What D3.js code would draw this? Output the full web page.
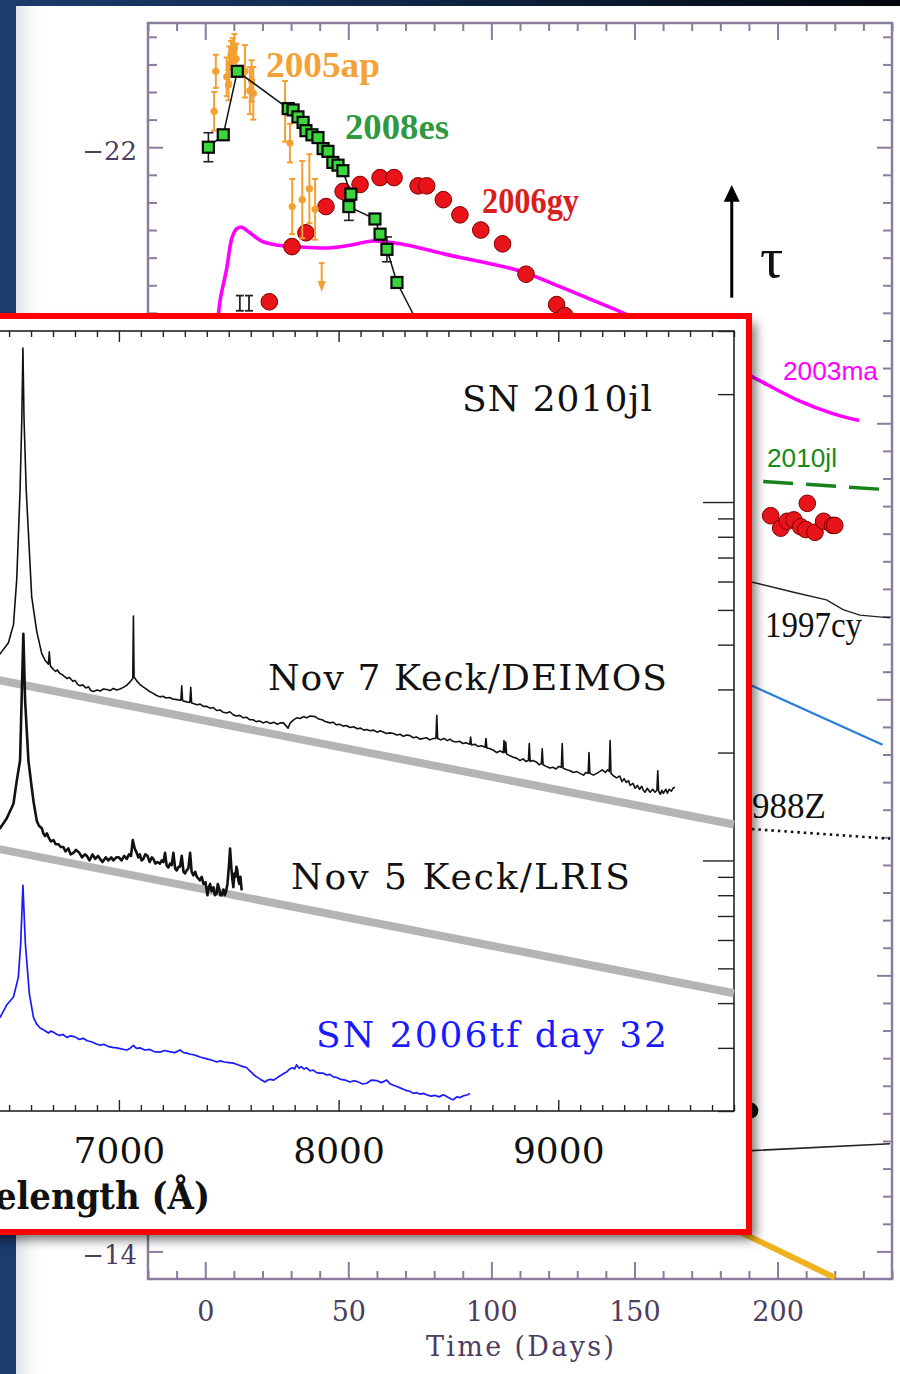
<!DOCTYPE html>
<html>
<head>
<meta charset="utf-8">
<script src="https://cdn.jsdelivr.net/npm/d3@7"></script>
<style>
  html, body { margin: 0; padding: 0; background: #0b1d36; }
  svg { display: block; }
</style>
</head>
<body>
<svg id="chart" width="900" height="1374"></svg>
<script>
// ---------------- Light curves (absolute magnitude vs. days) ----------------
const dayTicks = d3.range(-20, 241, 10);
const dayLabels = [0, 50, 100, 150, 200];
const magTicks = d3.range(-114, -69).map(i => i / 5);
const magLabels = [-22, -20, -18, -16, -14];

// [day, mag, error]
const sn2008es = [
  [1.1, -22.00, 0.105], [6.3, -22.09, 0], [11.2, -22.55, 0.03], [29.0, -22.28, 0],
  [30.7, -22.27, 0], [32.4, -22.22, 0], [34.2, -22.18, 0], [35.2, -22.12, 0],
  [37.3, -22.09, 0], [39.4, -22.07, 0], [41.2, -21.99, 0], [42.9, -21.97, 0],
  [44.6, -21.89, 0], [46.4, -21.87, 0], [48.1, -21.83, 0], [50.9, -21.66, 0],
  [50.2, -21.57, 0.10], [59.3, -21.48, 0], [61.1, -21.37, 0], [63.5, -21.26, 0.09],
  [67.0, -21.02, 0], [79.9, -20.50, 0]
];
// [day, mag, error]
const sn2005ap = [
  [3.1, -22.26, 0.14], [3.7, -22.55, 0.12], [7.5, -22.51, 0.14], [8.1, -22.45, 0.11],
  [8.4, -22.60, 0.13], [9.0, -22.67, 0.10], [9.6, -22.70, 0.09], [10.2, -22.72, 0.10],
  [10.8, -22.64, 0.11], [13.9, -22.55, 0.19], [15.6, -22.41, 0.17], [16.2, -22.48, 0.15],
  [16.8, -22.39, 0.19], [27.9, -22.26, 0.22], [29.6, -22.03, 0.14], [30.4, -21.57, 0.20],
  [33.9, -21.62, 0.28], [36.4, -21.70, 0.25], [38.4, -21.55, 0.22]
];
const sn2005apLimit = [[40.7, -21.16]];
// [day, mag]
const sn2006gy = [
  [22.4, -20.88], [30.3, -21.28], [35.2, -21.38], [42.2, -21.57], [48.2, -21.68],
  [54.1, -21.73], [61.1, -21.78], [66.0, -21.78], [74.4, -21.72], [77.4, -21.72],
  [83.2, -21.62], [89.0, -21.51], [96.3, -21.40], [103.9, -21.30], [112.1, -21.08],
  [122.8, -20.86], [125.7, -20.78],
  [197.6, -19.33], [201.1, -19.24], [203.4, -19.29], [205.7, -19.30], [208.1, -19.25],
  [210.4, -19.42], [209.9, -19.23], [213.1, -19.21], [216.1, -19.29], [219.2, -19.26],
  [220.0, -19.26]
];
const barsOnly = [[12.1, -20.87, 0.055], [15.3, -20.87, 0.055]];
const sn2003ma = [
  [3.8, -20.60], [5.2, -20.89], [7.5, -21.12], [9.3, -21.34], [11.0, -21.41],
  [12.7, -21.42], [15.6, -21.38], [19.7, -21.32], [25.5, -21.29], [31.4, -21.28],
  [43.0, -21.27], [50.6, -21.29], [58.7, -21.32], [68.1, -21.30], [84.9, -21.22],
  [108.8, -21.11], [124.0, -20.99], [135.5, -20.89], [146.0, -20.80], [169.4, -20.57],
  [190.9, -20.34], [207.8, -20.16], [219.3, -20.07], [228.5, -20.02]
];
const sn2010jl = [[150, -19.64], [237.5, -19.52]];
const sn1997cy = [
  [172.9, -18.94], [190.9, -18.85], [206.7, -18.77], [217.1, -18.72],
  [222.9, -18.65], [228.8, -18.61], [239.3, -18.59]
];
const blueCurve = [[172.9, -18.28], [190.9, -18.10], [236.7, -17.67]];
const sn1988Z = [[172.9, -17.08], [191.0, -17.06], [239.3, -16.99]];
const blackLowCurve = [[172.9, -14.71], [191.0, -14.73], [239.3, -14.78]];
const goldCurve = [[172.9, -14.28], [191.0, -14.10], [220.0, -13.81]];
const hiddenDot = [[190.5, -15.02]];

// ---------------- Spectra (flux in 1e-15 erg/s/cm2/A, log axis) ----------------
const waveTicks = d3.range(3700, 9801, 100);
const waveLabels = [7000, 8000, 9000];
const fluxTicks = [0.2, 0.3, 0.4, 0.5, 0.6, 0.7, 0.8, 0.9, 1, 2, 3, 4, 5, 6, 7, 8, 9, 10, 20, 30];

const deimosNov7 = [
  [6345, 3.34], [6459, 3.77], [6497, 4.05], [6520, 4.55], [6535, 6.11], [6550, 10.8],
  [6558, 17.1], [6563, 26.9], [6568, 17.1], [6578, 10.8], [6603, 5.44], [6626, 4.35],
  [6649, 3.77], [6664, 3.62], [6679, 3.53], [6683, 3.82], [6688, 3.49], [6702, 3.41],
  [6712, 3.37], [6720, 3.40], [6730, 3.33], [6742, 3.30], [6750, 3.27], [6763, 3.22],
  [6775, 3.24], [6790, 3.16], [6800, 3.18], [6812, 3.10], [6823, 3.07], [6835, 3.09],
  [6850, 3.03], [6862, 3.05], [6872, 2.98], [6884, 2.96], [6900, 2.99], [6915, 2.97],
  [6930, 3.01], [6945, 3.00], [6960, 2.98], [6975, 3.02], [6990, 2.99], [7005, 3.01],
  [7020, 3.04], [7035, 3.08], [7051, 3.15], [7063, 3.22], [7066, 4.81], [7069, 3.25],
  [7081, 3.17], [7095, 3.10], [7110, 3.05], [7127, 3.00], [7140, 2.96], [7155, 2.93],
  [7170, 2.89], [7187, 2.86], [7200, 2.87], [7215, 2.84], [7230, 2.85], [7245, 2.82],
  [7263, 2.81], [7282, 2.80], [7286, 3.07], [7290, 2.79], [7309, 2.77], [7323, 2.76],
  [7327, 3.04], [7331, 2.75], [7339, 2.74], [7355, 2.72], [7370, 2.73], [7385, 2.69],
  [7400, 2.69], [7415, 2.66], [7430, 2.67], [7445, 2.62], [7460, 2.63], [7475, 2.59],
  [7491, 2.58], [7505, 2.60], [7520, 2.55], [7535, 2.53], [7550, 2.54], [7566, 2.50],
  [7580, 2.51], [7595, 2.47], [7610, 2.47], [7625, 2.44], [7640, 2.45], [7657, 2.42],
  [7672, 2.44], [7690, 2.41], [7705, 2.43], [7720, 2.40], [7735, 2.42], [7749, 2.42],
  [7762, 2.37], [7770, 2.34], [7780, 2.42], [7790, 2.45], [7800, 2.48], [7810, 2.50],
  [7825, 2.49], [7840, 2.52], [7855, 2.50], [7870, 2.53], [7893, 2.52], [7910, 2.48],
  [7925, 2.47], [7940, 2.44], [7961, 2.42], [7975, 2.43], [7990, 2.39], [8005, 2.40],
  [8020, 2.37], [8035, 2.38], [8052, 2.35], [8068, 2.36], [8085, 2.33], [8100, 2.34],
  [8115, 2.31], [8128, 2.32], [8143, 2.30], [8160, 2.31], [8175, 2.28], [8190, 2.30],
  [8205, 2.28], [8220, 2.26], [8234, 2.27], [8250, 2.26], [8265, 2.24], [8280, 2.25],
  [8295, 2.22], [8310, 2.24], [8325, 2.23], [8340, 2.20], [8355, 2.21], [8370, 2.18],
  [8384, 2.19], [8400, 2.20], [8415, 2.17], [8430, 2.19], [8443, 2.19], [8447, 2.54],
  [8451, 2.19], [8465, 2.17], [8480, 2.19], [8495, 2.16], [8507, 2.18], [8520, 2.15],
  [8535, 2.14], [8550, 2.15], [8566, 2.12], [8580, 2.13], [8597, 2.11], [8601, 2.21],
  [8605, 2.10], [8620, 2.11], [8635, 2.08], [8650, 2.09], [8667, 2.07], [8671, 2.19],
  [8675, 2.06], [8690, 2.05], [8705, 2.03], [8720, 2.00], [8735, 2.02], [8750, 2.00],
  [8753, 2.16], [8757, 2.00], [8761, 2.14], [8765, 1.98], [8780, 1.96], [8795, 1.94],
  [8810, 1.93], [8826, 1.90], [8840, 1.92], [8852, 1.89], [8864, 1.90], [8868, 2.12],
  [8872, 1.89], [8885, 1.90], [8902, 1.88], [8912, 1.85], [8923, 1.86], [8927, 2.05],
  [8931, 1.85], [8945, 1.83], [8962, 1.81], [8975, 1.82], [8990, 1.80], [9002, 1.83],
  [9014, 1.82], [9018, 2.12], [9022, 1.81], [9038, 1.79], [9054, 1.78], [9068, 1.76],
  [9085, 1.77], [9099, 1.75], [9115, 1.73], [9125, 1.76], [9136, 1.75], [9140, 2.00],
  [9144, 1.75], [9160, 1.73], [9175, 1.75], [9188, 1.77], [9200, 1.79], [9215, 1.76],
  [9225, 1.79], [9232, 1.77], [9236, 2.16], [9240, 1.75], [9252, 1.72], [9266, 1.70],
  [9280, 1.72], [9290, 1.66], [9300, 1.69], [9310, 1.65], [9320, 1.67], [9327, 1.62],
  [9340, 1.64], [9350, 1.59], [9360, 1.62], [9370, 1.58], [9380, 1.61], [9387, 1.57],
  [9395, 1.55], [9405, 1.59], [9418, 1.55], [9430, 1.58], [9440, 1.55], [9449, 1.57],
  [9453, 1.78], [9457, 1.56], [9465, 1.53], [9472, 1.57], [9478, 1.54], [9490, 1.58],
  [9497, 1.54], [9505, 1.58], [9515, 1.56], [9522, 1.59], [9531, 1.60]
];
const lrisNov5 = [
  [6345, 1.10], [6459, 1.23], [6489, 1.31], [6520, 1.44], [6535, 1.67], [6550, 1.90],
  [6557, 2.79], [6565, 4.29], [6573, 2.79], [6588, 1.90], [6603, 1.60], [6612, 1.45],
  [6626, 1.29], [6636, 1.25], [6649, 1.23], [6656, 1.19], [6664, 1.17], [6672, 1.19],
  [6680, 1.16], [6690, 1.13], [6702, 1.14], [6712, 1.11], [6725, 1.11], [6735, 1.09],
  [6747, 1.09], [6757, 1.06], [6770, 1.08], [6780, 1.04], [6793, 1.05], [6805, 1.07],
  [6820, 1.05], [6832, 1.02], [6845, 1.04], [6854, 1.03], [6866, 1.00], [6880, 1.04],
  [6892, 1.01], [6905, 1.03], [6914, 1.01], [6925, 0.99], [6940, 1.02], [6952, 1.00],
  [6965, 1.02], [6975, 1.00], [6988, 1.02], [7000, 1.02], [7012, 1.00], [7024, 1.03],
  [7036, 1.01], [7046, 1.04], [7055, 1.03], [7063, 1.14], [7072, 1.08], [7081, 1.05],
  [7088, 1.02], [7095, 1.04], [7103, 1.00], [7111, 1.01], [7120, 1.04], [7130, 1.03],
  [7140, 0.99], [7150, 1.02], [7157, 1.01], [7166, 0.98], [7175, 0.99], [7187, 0.98],
  [7195, 1.00], [7203, 0.99], [7210, 1.05], [7217, 0.97], [7225, 0.956], [7233, 0.98],
  [7240, 0.97], [7248, 1.05], [7256, 0.95], [7263, 0.938], [7271, 0.96], [7278, 0.96],
  [7286, 1.03], [7294, 0.93], [7301, 0.920], [7309, 0.94], [7316, 0.95], [7324, 1.05],
  [7331, 0.93], [7339, 0.909], [7347, 0.93], [7355, 0.90], [7362, 0.89], [7369, 0.880],
  [7377, 0.90], [7385, 0.86], [7394, 0.87], [7403, 0.800], [7409, 0.84], [7415, 0.86],
  [7422, 0.82], [7430, 0.842], [7437, 0.80], [7445, 0.81], [7450, 0.86], [7455, 0.84],
  [7462, 0.80], [7468, 0.800], [7476, 0.83], [7482, 0.80], [7488, 0.82], [7494, 0.86],
  [7500, 0.95], [7506, 1.08], [7512, 0.95], [7517, 0.88], [7521, 0.842], [7526, 0.92],
  [7530, 0.90], [7535, 0.96], [7539, 0.938], [7544, 0.88], [7548, 0.86], [7553, 0.90],
  [7559, 0.825]
];
const sn2006tfDay32 = [
  [6345, 0.336], [6459, 0.365], [6489, 0.395], [6520, 0.416], [6542, 0.472], [6553, 0.588],
  [6563, 0.852], [6574, 0.588], [6592, 0.426], [6611, 0.365], [6625, 0.350], [6641, 0.341],
  [6660, 0.336], [6679, 0.330], [6690, 0.334], [6702, 0.332], [6715, 0.328], [6730, 0.325],
  [6745, 0.327], [6763, 0.321], [6780, 0.324], [6800, 0.322], [6818, 0.317], [6838, 0.319],
  [6855, 0.314], [6875, 0.312], [6895, 0.308], [6914, 0.305], [6930, 0.307], [6950, 0.303],
  [6970, 0.301], [6990, 0.300], [7010, 0.298], [7036, 0.296], [7050, 0.299], [7066, 0.305],
  [7080, 0.299], [7096, 0.300], [7118, 0.296], [7140, 0.297], [7160, 0.293], [7187, 0.292],
  [7208, 0.295], [7230, 0.293], [7255, 0.291], [7278, 0.296], [7295, 0.291], [7309, 0.290],
  [7325, 0.288], [7340, 0.287], [7355, 0.285], [7369, 0.283], [7388, 0.281], [7405, 0.279],
  [7425, 0.277], [7445, 0.274], [7462, 0.276], [7480, 0.274], [7500, 0.273], [7521, 0.272],
  [7535, 0.270], [7550, 0.268], [7565, 0.266], [7582, 0.264], [7595, 0.259], [7605, 0.256],
  [7615, 0.252], [7627, 0.249], [7645, 0.245], [7665, 0.241], [7678, 0.244], [7690, 0.245],
  [7705, 0.244], [7718, 0.247], [7730, 0.250], [7740, 0.252], [7752, 0.255], [7764, 0.257],
  [7778, 0.262], [7790, 0.264], [7800, 0.262], [7809, 0.269], [7820, 0.263], [7830, 0.266],
  [7842, 0.262], [7855, 0.264], [7870, 0.259], [7885, 0.260], [7900, 0.256], [7916, 0.255],
  [7930, 0.255], [7945, 0.252], [7960, 0.253], [7976, 0.249], [7992, 0.248], [8010, 0.245],
  [8030, 0.244], [8052, 0.241], [8070, 0.243], [8090, 0.241], [8110, 0.238], [8128, 0.239],
  [8150, 0.244], [8175, 0.243], [8195, 0.240], [8219, 0.244], [8235, 0.238], [8250, 0.236],
  [8265, 0.234], [8280, 0.232], [8295, 0.230], [8310, 0.228], [8325, 0.227], [8340, 0.224],
  [8355, 0.225], [8370, 0.223], [8385, 0.224], [8401, 0.222], [8420, 0.220], [8440, 0.221],
  [8458, 0.219], [8477, 0.222], [8490, 0.220], [8500, 0.218], [8512, 0.216], [8522, 0.215],
  [8538, 0.219], [8553, 0.218], [8565, 0.220], [8575, 0.221], [8588, 0.222], [8598, 0.224]
];
const continuumUpper = [[6000, 3.61], [9800, 1.26]];
const continuumLower = [[6000, 1.22], [9800, 0.426]];

// ---------------- Drawing ----------------
const W = 900, H = 1374;
const svg = d3.select('#chart');
const defs = svg.append('defs');

const bg = defs.append('linearGradient').attr('id', 'bgGrad')
  .attr('x1', 0).attr('y1', 0).attr('x2', 1).attr('y2', 0);
bg.append('stop').attr('offset', '0%').attr('stop-color', '#1b3c6e');
bg.append('stop').attr('offset', '50%').attr('stop-color', '#0e2342');
bg.append('stop').attr('offset', '100%').attr('stop-color', '#03070d');

const edge = defs.append('linearGradient').attr('id', 'edgeGrad')
  .attr('x1', 0).attr('y1', 0).attr('x2', 1).attr('y2', 0);
edge.append('stop').attr('offset', '0%').attr('stop-color', '#dfe2e8');
edge.append('stop').attr('offset', '100%').attr('stop-color', '#ffffff').attr('stop-opacity', 0);

const shadow = defs.append('filter').attr('id', 'shadow')
  .attr('x', '-5%').attr('y', '-5%').attr('width', '115%').attr('height', '115%');
shadow.append('feDropShadow').attr('dx', 6).attr('dy', 7)
  .attr('stdDeviation', 6).attr('flood-color', '#000').attr('flood-opacity', 0.6);

svg.append('rect').attr('width', W).attr('height', H).attr('fill', 'url(#bgGrad)');
svg.append('rect').attr('x', 16).attr('y', 6).attr('width', W).attr('height', H).attr('fill', '#fff');
svg.append('rect').attr('x', 16).attr('y', 6).attr('width', 30).attr('height', H).attr('fill', 'url(#edgeGrad)');

// ---- light curve panel ----
const xL = d3.scaleLinear().domain([-20, 240]).range([148, 892]);
const yL = d3.scaleLinear().domain([-22.9, -13.8]).range([23, 1279]);
const frameCol = '#8a7c9c', labelCol = '#4d3d60';
const lc = svg.append('g');

const near = (a, b) => Math.abs(a - b) < 1e-6;
const isDayMajor = d => d % 50 === 0;
const isMagMajor = d => near(d, Math.round(d)) && Math.round(d) % 2 === 0;

function tidy(g) {
  g.select('.domain').remove();
  g.selectAll('.tick line').attr('stroke', frameCol).attr('stroke-width', 2);
  g.selectAll('.tick text').attr('font-family', 'DejaVu Serif').attr('fill', labelCol);
  return g;
}

const gBot = lc.append('g').attr('transform', `translate(0,${yL(-13.8)})`)
  .call(d3.axisBottom(xL).tickValues(dayTicks).tickSize(-8).tickPadding(23)
    .tickFormat(d => dayLabels.includes(d) ? d3.format('d')(d) : ''));
tidy(gBot).selectAll('.tick line').attr('y2', d => isDayMajor(d) ? -17 : -8);
gBot.selectAll('.tick text').attr('font-size', 27);

const gTop = lc.append('g').attr('transform', `translate(0,${yL(-22.9)})`)
  .call(d3.axisTop(xL).tickValues(dayTicks).tickSize(-8).tickFormat(''));
tidy(gTop).selectAll('.tick line').attr('y2', d => isDayMajor(d) ? 17 : 8);

const gLeft = lc.append('g').attr('transform', `translate(${xL(-20)},0)`)
  .call(d3.axisLeft(yL).tickValues(magTicks).tickSize(-9).tickPadding(11)
    .tickFormat(d => magLabels.some(m => near(m, d)) ? d3.format('d')(Math.round(d)) : ''));
tidy(gLeft).selectAll('.tick line').attr('x2', d => isMagMajor(d) ? 15 : 9);
gLeft.selectAll('.tick text').attr('font-size', 26).attr('dy', '0.46em');

const gRight = lc.append('g').attr('transform', `translate(${xL(240)},0)`)
  .call(d3.axisRight(yL).tickValues(magTicks).tickSize(-9).tickFormat(''));
tidy(gRight).selectAll('.tick line').attr('x2', d => isMagMajor(d) ? -15 : -9);

lc.append('rect')
  .attr('x', xL(-20)).attr('y', yL(-22.9))
  .attr('width', xL(240) - xL(-20)).attr('height', yL(-13.8) - yL(-22.9))
  .attr('fill', 'none').attr('stroke', frameCol).attr('stroke-width', 2.5);

lc.append('text').attr('x', (xL(-20) + xL(240)) / 2).attr('y', 1356)
  .attr('text-anchor', 'middle').attr('font-family', 'DejaVu Serif').attr('font-size', 27)
  .attr('fill', labelCol).attr('textLength', 188).attr('lengthAdjust', 'spacing')
  .text('Time (Days)');

const line = d3.line().x(d => xL(d[0])).y(d => yL(d[1]));

// late-time comparison tracks
lc.append('path').datum(goldCurve).attr('d', line).attr('fill', 'none')
  .attr('stroke', '#f0b21e').attr('stroke-width', 6);
lc.append('path').datum(blackLowCurve).attr('d', line).attr('fill', 'none')
  .attr('stroke', '#222').attr('stroke-width', 1.6);
lc.append('path').datum(sn1988Z).attr('d', line).attr('fill', 'none')
  .attr('stroke', '#111').attr('stroke-width', 2.6).attr('stroke-dasharray', '2.5,4');
lc.append('path').datum(blueCurve).attr('d', line).attr('fill', 'none')
  .attr('stroke', '#2b7fdc').attr('stroke-width', 2.2);
lc.append('path').datum(sn1997cy).attr('d', line).attr('fill', 'none')
  .attr('stroke', '#222').attr('stroke-width', 1.4);
lc.append('path').datum(sn2010jl).attr('d', line).attr('fill', 'none')
  .attr('stroke', '#17821a').attr('stroke-width', 3.5).attr('stroke-dasharray', '30,13');
lc.selectAll('circle.hid').data(hiddenDot).join('circle').attr('class', 'hid')
  .attr('cx', d => xL(d[0])).attr('cy', d => yL(d[1])).attr('r', 8).attr('fill', '#111');

// SN 2003ma model curve
lc.append('path').datum(sn2003ma)
  .attr('d', d3.line().x(d => xL(d[0])).y(d => yL(d[1])).curve(d3.curveCatmullRom.alpha(0.5)))
  .attr('fill', 'none').attr('stroke', '#ff00ff').attr('stroke-width', 3.6);

// SN 2006gy
lc.selectAll('circle.gy').data(sn2006gy).join('circle').attr('class', 'gy')
  .attr('cx', d => xL(d[0])).attr('cy', d => yL(d[1])).attr('r', 8.3)
  .attr('fill', '#e8141a').attr('stroke', '#7a0000').attr('stroke-width', 1);

// error bars without markers
function errBars(g, data, color, width, cap) {
  const e = g.append('g').attr('stroke', color).attr('stroke-width', width);
  e.selectAll('line.v').data(data).join('line').attr('class', 'v')
    .attr('x1', d => xL(d[0])).attr('x2', d => xL(d[0]))
    .attr('y1', d => yL(d[1] - d[2])).attr('y2', d => yL(d[1] + d[2]));
  e.selectAll('line.t').data(data).join('line').attr('class', 't')
    .attr('x1', d => xL(d[0]) - cap).attr('x2', d => xL(d[0]) + cap)
    .attr('y1', d => yL(d[1] - d[2])).attr('y2', d => yL(d[1] - d[2]));
  e.selectAll('line.b').data(data).join('line').attr('class', 'b')
    .attr('x1', d => xL(d[0]) - cap).attr('x2', d => xL(d[0]) + cap)
    .attr('y1', d => yL(d[1] + d[2])).attr('y2', d => yL(d[1] + d[2]));
}
errBars(lc, barsOnly, '#222', 1.8, 4);

// SN 2005ap
const apCol = '#f3a033';
errBars(lc, sn2005ap, apCol, 2, 3);
lc.selectAll('circle.ap').data(sn2005ap).join('circle').attr('class', 'ap')
  .attr('cx', d => xL(d[0])).attr('cy', d => yL(d[1])).attr('r', 3.6).attr('fill', apCol);
const lim = lc.append('g');
lim.selectAll('line').data(sn2005apLimit).join('line')
  .attr('x1', d => xL(d[0])).attr('x2', d => xL(d[0]))
  .attr('y1', d => yL(d[1])).attr('y2', d => yL(d[1] + 0.14))
  .attr('stroke', apCol).attr('stroke-width', 2);
lim.selectAll('line.cap').data(sn2005apLimit).join('line').attr('class', 'cap')
  .attr('x1', d => xL(d[0]) - 3).attr('x2', d => xL(d[0]) + 3)
  .attr('y1', d => yL(d[1])).attr('y2', d => yL(d[1]))
  .attr('stroke', apCol).attr('stroke-width', 2);
lim.selectAll('path').data(sn2005apLimit).join('path')
  .attr('d', d => {
    const x = xL(d[0]), y = yL(d[1] + 0.13);
    return `M${x - 4},${y}L${x + 4},${y}L${x},${y + 11}Z`;
  }).attr('fill', apCol);

// SN 2008es
lc.append('path').datum(sn2008es).attr('d', line).attr('fill', 'none')
  .attr('stroke', '#111').attr('stroke-width', 1.5);
errBars(lc, sn2008es.filter(d => d[2] > 0), '#222', 1.6, 5);
lc.selectAll('rect.es').data(sn2008es).join('rect').attr('class', 'es')
  .attr('x', d => xL(d[0]) - 5.5).attr('y', d => yL(d[1]) - 5.5)
  .attr('width', 11).attr('height', 11)
  .attr('fill', '#3bd63b').attr('stroke', '#0a0a0a').attr('stroke-width', 2.2);

// labels
function lab(x, y, t, o) {
  const s = lc.append('text').attr('x', x).attr('y', y).text(t)
    .attr('font-family', o.font || 'Liberation Serif').attr('font-size', o.size || 36)
    .attr('font-weight', o.weight || 'normal').attr('fill', o.fill || '#111')
    .attr('text-anchor', o.anchor || 'start');
  if (o.len) s.attr('textLength', o.len).attr('lengthAdjust', 'spacingAndGlyphs');
  return s;
}
lab(266, 77, '2005ap', { weight: 'bold', fill: '#f3a238', len: 114 });
lab(345, 139, '2008es', { weight: 'bold', fill: '#2f9a3f', len: 104 });
lab(482, 213, '2006gy', { weight: 'bold', fill: '#d91e1e', len: 97 });
lab(783, 380, '2003ma', { font: 'Liberation Sans', size: 25, fill: '#ff00ff', len: 95 });
lab(767, 467, '2010jl', { font: 'Liberation Sans', size: 25, fill: '#178a17', len: 70 });
lab(765, 637, '1997cy', { size: 36, len: 97 });
lab(826, 818, '1988Z', { size: 35, anchor: 'end' });

// optical-depth arrow
const ax = xL(184);
lc.append('line').attr('x1', ax).attr('x2', ax).attr('y1', yL(-20.91)).attr('y2', yL(-21.64))
  .attr('stroke', '#000').attr('stroke-width', 3);
lc.append('path')
  .attr('d', `M${ax - 8},${yL(-21.605)}L${ax + 8},${yL(-21.605)}L${ax},${yL(-21.726)}Z`)
  .attr('fill', '#000');
lab(760, 277, 'τ', { size: 58 });

// ---- spectrum inset ----
const xS = d3.scaleLinear().domain([3700, 9800]).range([-606, 734]);
const yS = d3.scaleLog().domain([0.2, 30]).range([1111, 331]);
const ins = svg.append('g');

ins.append('rect').attr('x', -300).attr('y', 316).attr('width', 1049).attr('height', 916)
  .attr('fill', '#fff').attr('filter', 'url(#shadow)');

const isWaveMajor = d => d % 1000 === 0;
const isFluxMajor = d => near(d, 1) || near(d, 10);
function tidyS(g) {
  g.select('.domain').remove();
  g.selectAll('.tick line').attr('stroke', '#222').attr('stroke-width', 1.4);
  g.selectAll('.tick text').attr('font-family', 'DejaVu Serif').attr('fill', '#111');
  return g;
}
const sBot = ins.append('g').attr('transform', `translate(0,${yS(0.2)})`)
  .call(d3.axisBottom(xS).tickValues(waveTicks).tickSize(-6).tickPadding(26)
    .tickFormat(d => waveLabels.includes(d) ? d : ''));
tidyS(sBot).selectAll('.tick line').attr('y2', d => isWaveMajor(d) ? -11 : -6);
sBot.selectAll('.tick text').attr('font-size', 36);

const sTop = ins.append('g').attr('transform', `translate(0,${yS(30)})`)
  .call(d3.axisTop(xS).tickValues(waveTicks).tickSize(-6).tickFormat(''));
tidyS(sTop).selectAll('.tick line').attr('y2', d => isWaveMajor(d) ? 11 : 6);

const sRight = ins.append('g').attr('transform', `translate(${xS(9800)},0)`)
  .call(d3.axisRight(yS).tickValues(fluxTicks).tickSize(-16).tickFormat(''));
tidyS(sRight).selectAll('.tick line').attr('x2', d => isFluxMajor(d) ? -31 : -16);

const sLeft = ins.append('g').attr('transform', `translate(${xS(3700)},0)`)
  .call(d3.axisLeft(yS).tickValues(fluxTicks).tickSize(-16).tickFormat(''));
tidyS(sLeft).selectAll('.tick line').attr('x2', d => isFluxMajor(d) ? 31 : 16);

ins.append('rect').attr('x', xS(3700)).attr('y', yS(30))
  .attr('width', xS(9800) - xS(3700)).attr('height', yS(0.2) - yS(30))
  .attr('fill', 'none').attr('stroke', '#222').attr('stroke-width', 1.6);

const sline = d3.line().x(d => xS(d[0])).y(d => yS(d[1]));
[continuumUpper, continuumLower].forEach(c => {
  ins.append('path').datum(c).attr('d', sline).attr('fill', 'none')
    .attr('stroke', '#b4b4b4').attr('stroke-width', 8);
});
ins.append('path').datum(deimosNov7).attr('d', sline).attr('fill', 'none')
  .attr('stroke', '#111').attr('stroke-width', 1.6).attr('stroke-linejoin', 'round');
ins.append('path').datum(lrisNov5).attr('d', sline).attr('fill', 'none')
  .attr('stroke', '#111').attr('stroke-width', 2.6).attr('stroke-linejoin', 'round');
ins.append('path').datum(sn2006tfDay32).attr('d', sline).attr('fill', 'none')
  .attr('stroke', '#1a1aff').attr('stroke-width', 1.7).attr('stroke-linejoin', 'round');

function slab(x, y, t, len, fill) {
  ins.append('text').attr('x', x).attr('y', y).text(t)
    .attr('font-family', 'DejaVu Serif').attr('font-size', 36)
    .attr('fill', fill || '#111').attr('textLength', len).attr('lengthAdjust', 'spacing');
}
slab(462, 411, 'SN 2010jl', 190);
slab(268, 690, 'Nov 7 Keck/DEIMOS', 399);
slab(291, 889, 'Nov 5 Keck/LRIS', 339);
slab(316, 1047, 'SN 2006tf day 32', 351, '#1a1aff');

// axis title of the spectrum panel (its left part runs past the page edge)
ins.append('text').attr('x', 210).attr('y', 1209).attr('text-anchor', 'end')
  .attr('font-family', 'DejaVu Serif').attr('font-weight', 'bold').attr('font-size', 38)
  .attr('fill', '#111').attr('textLength', 292).attr('lengthAdjust', 'spacingAndGlyphs')
  .text('Wavelength (Å)');

ins.append('rect').attr('x', -300).attr('y', 316).attr('width', 1049).attr('height', 916)
  .attr('fill', 'none').attr('stroke', '#ff0000').attr('stroke-width', 6);
</script>
</body>
</html>
